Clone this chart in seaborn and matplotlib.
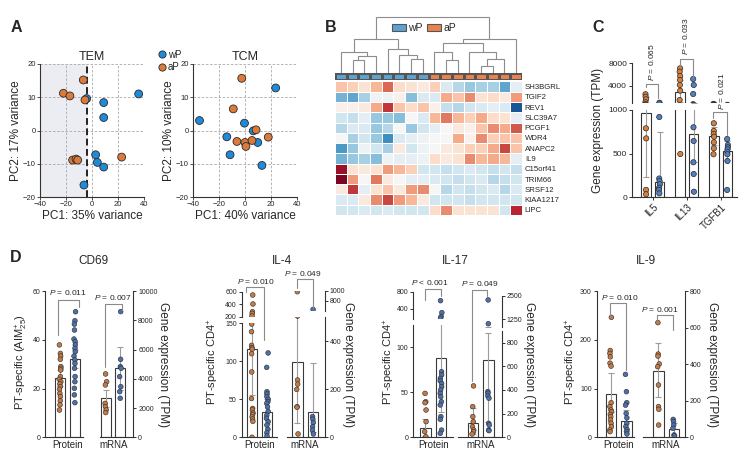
import numpy as np
import pandas as pd
import matplotlib
matplotlib.use("Agg")
import matplotlib.pyplot as plt
import seaborn as sns
from matplotlib.colors import ListedColormap
from matplotlib.lines import Line2D
from matplotlib.patches import Patch

# ---------------- DATA ----------------
# Panel A (PCA)
tem_wP_pc1 = [-4.1, 35.9, 9, 9, 2.8, 4.1, 9, -6.2]
tem_wP_pc2 = [9.6, 11, 8.4, 3.9, -7.3, -9.6, -11, -16.4]
tem_aP_pc1 = [-22, -17, -6.7, -5.4, -14.9, -12.3, -11, 22.8]
tem_aP_pc2 = [11.2, 10.4, 15.2, 9.2, -8.9, -8.6, -8.9, -8]
tcm_wP_pc1 = [-35, -0.4, -14, -11.5, 23.6, 6.4, 9.8, 13]
tcm_wP_pc2 = [3, 2.2, -1.9, -7.3, 12.8, -0.1, -3.6, -10.5]
tcm_aP_pc1 = [-2.5, -9, -6.2, 0, 0.7, 5.4, 8.5, 17.9]
tcm_aP_pc2 = [15.7, 6.5, -3.3, -3.6, -4.8, -3, 0.2, -2]
tem_cutoff = -3.5

# Panel B (heatmap)
hm_genes = ["SH3BGRL", "TGIF2", "REV1", "SLC39A7", "PCGF1", "WDR4", "ANAPC2",
            "IL9", "C15orf41", "TRIM66", "SRSF12", "KIAA1217", "LIPC"]
hm_groups = ["wP"] * 8 + ["aP"] * 8
hm_values = [
    [0.6, 0.5, 0.3, 0.7, 1.2, 0.4, 0.3, 0.2, 0.5, -0.3, -0.6, -0.8, -0.7, -0.7, -1.1, -0.2],
    [-1.0, -1.1, -0.7, -0.1, -0.1, 0.1, -0.9, -0.3, -0.3, 0.8, 0.6, 1.0, 0.3, 0.4, 0.2, 0.9],
    [0.1, 0.1, 0.2, 0.8, 1.5, 0.6, 0.4, 0.6, 0.1, -0.5, -0.6, -0.4, -0.3, -0.2, -0.3, -1.8],
    [-0.4, -0.5, -0.2, -0.8, -0.8, -0.9, 0.0, -0.3, 0.7, 1.1, 0.7, 0.5, 0.8, 0.4, 0.3, -0.2],
    [-0.6, -0.3, -0.3, -0.8, -0.6, 0.0, -0.8, -0.4, -0.2, 0.0, 0.2, 0.1, 0.6, 1.0, 0.8, 1.3],
    [0.0, -0.7, -0.4, -0.8, -1.3, -0.3, -0.2, -0.1, 0.0, 0.0, 0.8, 0.1, 1.0, 0.5, 0.6, 0.6],
    [-1.2, -0.8, -0.1, -0.4, -0.7, 0.2, -0.4, -0.1, 0.0, 0.2, 0.3, 0.5, 0.5, 0.8, 1.4, 0.6],
    [-1.0, -0.8, -0.7, -0.9, -0.1, -0.2, -0.2, -0.1, 0.4, 0.2, 0.3, 1.0, 0.7, 0.8, 0.7, -0.2],
    [1.8, 0.3, 0.2, 0.3, 0.9, 0.7, 0.5, -0.4, -0.4, -0.5, -0.4, -0.3, -0.4, -0.5, -0.4, -0.5],
    [2.0, 0.9, 0.0, 1.1, 0.2, 0.0, -0.2, -0.2, -0.3, -0.4, -0.5, -0.4, -0.3, -0.6, -0.5, -0.4],
    [0.2, 1.5, -0.2, 0.3, 0.6, 0.2, 0.9, 1.0, 0.0, -0.6, -0.4, -0.5, -0.4, -0.3, -0.6, -0.3],
    [-0.3, -0.3, 0.2, 1.0, 1.4, 0.9, 0.7, 0.2, -0.4, -0.4, -0.4, -0.5, -0.4, -0.4, -0.4, -0.4],
    [-0.4, -0.4, -0.3, -0.4, -0.3, -0.4, -0.4, -0.4, 0.4, 1.0, 0.3, 0.3, 0.3, 0.3, -0.4, 1.6],
]
# dendrogram merges (child a, child b, height) — scipy-linkage style node ids
dend_merges = [(1, 2, 2.4), (16, 3, 3.0), (0, 17, 3.8), (6, 7, 2.5), (5, 19, 3.2),
               (4, 20, 4.3), (18, 21, 6.0), (9, 10, 2.4), (8, 23, 3.8), (12, 13, 1.3),
               (25, 14, 2.5), (11, 26, 3.8), (24, 27, 5.3), (28, 15, 6.0), (22, 29, 10.0)]

# Panel C
c_genes = ["IL5", "IL13", "TGFB1"]
c_IL5_aP = [2540, 2110, 1650, 1120, 790, 675, 85, 35]
c_IL5_wP = [1050, 920, 215, 185, 150, 110, 85, 45]
c_IL13_aP = [7120, 6520, 5760, 5060, 4180, 3170, 1530, 496]
c_IL13_wP = [5230, 4180, 2590, 802, 645, 401, 267, 64]
c_TGFB1_aP = [848, 760, 725, 694, 630, 561, 493]
c_TGFB1_wP = [668, 599, 573, 550, 522, 493, 416, 84]
c_bar_aP = [962, 2890, 702]
c_bar_wP = [179, 722, 534]
c_err_aP = [(236, 2000), (1200, 5000), (600, 800)]
c_err_wP = [(179, 745), (400, 1050), (430, 640)]
c_pvals = ["0.065", "0.033", "0.021"]

# Panel D
cd69_prot_aP = [37.9, 34.4, 33.3, 32, 29, 28.3, 27.6, 24.9, 23.8, 22.8, 21.9, 20.8, 19.7, 18, 16.7, 15, 13.3, 11.2]
cd69_prot_wP = [51.5, 47.8, 46.4, 44, 40.3, 39.2, 37.9, 36.5, 35.1, 33.3, 31.7, 30.3, 28.3, 24.9, 22.8, 20.1, 17.4, 14.2]
cd69_mrna_aP = [4330, 3800, 3580, 2320, 2100, 1870, 1690]
cd69_mrna_wP = [8590, 5330, 4830, 4720, 4150, 3460, 3120, 2670]
cd69_prot_bars = [24.2, 32.1]
cd69_mrna_bars = [2665, 4715]
cd69_prot_errs = [(21, 27.5), (28.5, 35.6)]
cd69_mrna_errs = [(2100, 3230), (3230, 6200)]

il4_prot_aP = [547, 403, 280, 253, 211, 149, 139, 121, 118, 116, 110, 86, 51, 38, 36, 32, 30, 27, 24, 21, 0]
il4_prot_wP = [111, 92, 60, 57, 53.5, 50, 47, 44.7, 40, 34, 29, 25, 20.6, 16, 10.5, 6, 1.8]
il4_mrna_aP = [980, 504, 238, 221, 199, 127, 125, 14]
il4_mrna_wP = [625, 86, 75, 61, 44, 30, 14]
il4_prot_bars = [116, 33.8]
il4_mrna_bars = [311, 107]
il4_prot_errs = [(56, 180), (18, 50)]
il4_mrna_errs = [(58, 580), (20, 307)]

il17_prot_aP = [48.9, 39.6, 38.5, 30.4, 17.4, 6.3, 0.7]
il17_prot_wP = [592, 315, 223, 185, 73, 69.6, 65.6, 63, 60, 56.3, 52.6, 48.9, 45.2, 39.6, 36, 23, 20, 8, 4.4]
il17_mrna_aP = [434, 259, 175, 132, 90, 62, 48, 28]
il17_mrna_wP = [2277, 1027, 386, 372, 349, 330, 118, 104, 62, 56]
il17_prot_bars = [10, 87.8]
il17_mrna_bars = [124, 653]
il17_prot_errs = [(2, 20), (28.5, 147)]
il17_mrna_errs = [(30, 250), (130, 880)]

il9_prot_aP = [246, 178, 172, 165, 152, 146, 71, 63, 56, 52.6, 47, 42.4, 35.5, 28.7, 21.9, 15, 11.6]
il9_prot_wP = [129, 93.6, 71, 66, 49, 40, 28.7, 22, 16, 11.6, 6.8]
il9_mrna_aP = [627, 455, 444, 401, 386, 286, 168, 153, 67]
il9_mrna_wP = [98, 86, 67, 49, 13, 7]
il9_prot_bars = [88, 34]
il9_mrna_bars = [362, 44]
il9_prot_errs = [(52, 131), (12, 56)]
il9_mrna_errs = [(222, 514), (10, 80)]

# ---------------- STYLE ----------------
sns.set_theme(style="ticks")
plt.rcParams['font.family'] = ['Liberation Sans', 'DejaVu Sans']
plt.rcParams['mathtext.fontset'] = 'custom'
plt.rcParams['mathtext.rm'] = 'Liberation Sans'
plt.rcParams['mathtext.it'] = 'Liberation Sans:italic'
plt.rcParams['mathtext.bf'] = 'Liberation Sans:bold'

BLUE_A, ORANGE_A = "#1f8ad8", "#dc7a3a"
BLUE_C, ORANGE_C = "#4f80c0", "#d4803f"
BLUE_D, ORANGE_D = "#4b70aa", "#c27a46"
EDGE = "#2a2a2a"
SPINE = "#333333"
ERRC = "#9c9c9c"

W, H = 746, 472
fig = plt.figure(figsize=(W / 100, H / 100), dpi=100)


def px_ax(l, t, r, b):
    return fig.add_axes([l / W, 1 - b / H, (r - l) / W, (b - t) / H])


def fx(x):
    return x / W


def fy(y):
    return 1 - y / H


def bracket(x1, x2, y, y1, y2, color="#8a8a8a"):
    fig.add_artist(Line2D([fx(x1), fx(x1), fx(x2), fx(x2)], [fy(y1), fy(y), fy(y), fy(y2)],
                          color=color, lw=0.8, transform=fig.transFigure))


def style_spines(ax, visible):
    for k, s in ax.spines.items():
        s.set_visible(k in visible)
        s.set_color(SPINE)
        s.set_linewidth(0.8)


# panel letters
for letter, (x, y) in {"A": (16, 28), "B": (331, 28), "C": (598, 28), "D": (16, 258)}.items():
    fig.text(fx(x), fy(y), letter, fontsize=11.5, fontweight="bold", ha="center", va="center")

# ---------------- PANEL A ----------------
def pca_panel(box, title, wx, wy, ax_, ay_, xl, yl, shade=None):
    ax = px_ax(*box)
    df = pd.DataFrame({"PC1": list(wx) + list(ax_), "PC2": list(wy) + list(ay_),
                       "group": ["wP"] * len(wx) + ["aP"] * len(ax_)})
    if shade is not None:
        ax.axvspan(-40, shade, color="#ececf3", zorder=0)
        ax.axvline(shade, color="#222222", lw=1.4, ls=(0, (3.5, 1.8)), zorder=1)
    ax.grid(True, ls=(0, (3, 2)), color="#a8a8a8", lw=0.6)
    ax.set_axisbelow(True)
    sns.scatterplot(data=df, x="PC1", y="PC2", hue="group", hue_order=["wP", "aP"],
                    palette={"wP": BLUE_A, "aP": ORANGE_A}, s=32, edgecolor=EDGE,
                    linewidth=0.6, legend=False, ax=ax, zorder=3)
    ax.set_xlim(-40, 40)
    ax.set_ylim(-20, 20)
    ax.set_xticks([-40, -20, 0, 20, 40])
    ax.set_yticks([-20, -10, 0, 10, 20])
    ax.tick_params(labelsize=5.5, length=2, width=0.6, pad=1, color=SPINE)
    style_spines(ax, ["left", "bottom"])
    ax.set_xlabel(xl, fontsize=8.5, labelpad=1)
    ax.set_ylabel(yl, fontsize=8.5, labelpad=1)
    ax.set_title(title, fontsize=9, pad=3)
    return ax


pca_panel((40, 64, 144, 197), "TEM", tem_wP_pc1, tem_wP_pc2, tem_aP_pc1, tem_aP_pc2,
          "PC1: 35% variance", "PC2: 17% variance", shade=tem_cutoff)
pca_panel((193, 64, 297, 197), "TCM", tcm_wP_pc1, tcm_wP_pc2, tcm_aP_pc1, tcm_aP_pc2,
          "PC1: 40% variance", "PC2: 10% variance")
leg_handles = [Line2D([], [], marker="o", ls="", markersize=5.2, markerfacecolor=c,
                      markeredgecolor=EDGE, markeredgewidth=0.6) for c in (BLUE_A, ORANGE_A)]
fig.legend(leg_handles, ["wP", "aP"], loc="upper left", bbox_to_anchor=(fx(151), fy(45)),
           frameon=False, fontsize=7, handletextpad=0.0, labelspacing=0.25, borderpad=0,
           handlelength=1.2)

# ---------------- PANEL B ----------------
HM_L, HM_R = 335, 522
dax = px_ax(HM_L, 15, HM_R, 73.3)
pos = {i: (i + 0.5, 0.0) for i in range(len(hm_groups))}
nid = len(hm_groups)
for a, b, h in dend_merges:
    xa, ha = pos[a]
    xb, hb = pos[b]
    dax.plot([xa, xa, xb, xb], [ha, h, h, hb], color="#8c8c8c", lw=0.8, solid_joinstyle="miter")
    pos[nid] = ((xa + xb) / 2, h)
    nid += 1
dax.set_xlim(0, len(hm_groups))
dax.set_ylim(0, 10.3)
dax.axis("off")

cax = px_ax(HM_L, 73.3, HM_R, 80)
grp_code = np.array([[0 if g == "wP" else 1 for g in hm_groups]])
sns.heatmap(grp_code, cmap=ListedColormap(["#5fa2d2", "#e8834f"]), vmin=0, vmax=1, cbar=False,
            linewidths=1.0, linecolor="#555555", xticklabels=False, yticklabels=False, ax=cax)

hax = px_ax(HM_L, 81.5, HM_R, 215)
hm_df = pd.DataFrame(hm_values, index=hm_genes)
sns.heatmap(hm_df, cmap="RdBu_r", vmin=-2.1, vmax=2.1, cbar=False, linewidths=0.6,
            linecolor="white", xticklabels=False, yticklabels=hm_genes, ax=hax)
hax.yaxis.tick_right()
hax.tick_params(axis="y", labelrotation=0, labelsize=5.6, length=0, pad=2)
hax.tick_params(axis="x", length=0)
fig.legend([Patch(facecolor="#5fa2d2", edgecolor="#555555", lw=0.8),
            Patch(facecolor="#e8834f", edgecolor="#555555", lw=0.8)], ["wP", "aP"],
           loc="center", bbox_to_anchor=(fx(424), fy(28)), ncol=2, frameon=False, fontsize=7.5,
           handlelength=1.3, handleheight=0.6, columnspacing=0.5, handletextpad=0.2, borderpad=0)

# ---------------- PANEL C ----------------
c_points = pd.DataFrame({
    "gene": (["IL5"] * len(c_IL5_aP) + ["IL5"] * len(c_IL5_wP) + ["IL13"] * len(c_IL13_aP)
             + ["IL13"] * len(c_IL13_wP) + ["TGFB1"] * len(c_TGFB1_aP) + ["TGFB1"] * len(c_TGFB1_wP)),
    "group": (["aP"] * len(c_IL5_aP) + ["wP"] * len(c_IL5_wP) + ["aP"] * len(c_IL13_aP)
              + ["wP"] * len(c_IL13_wP) + ["aP"] * len(c_TGFB1_aP) + ["wP"] * len(c_TGFB1_wP)),
    "value": c_IL5_aP + c_IL5_wP + c_IL13_aP + c_IL13_wP + c_TGFB1_aP + c_TGFB1_wP,
})
c_bars = pd.DataFrame({"gene": c_genes * 2, "group": ["aP"] * 3 + ["wP"] * 3,
                       "value": c_bar_aP + c_bar_wP})
c_upper = px_ax(632, 63.3, 737, 103)
c_lower = px_ax(632, 110, 737, 197.3)
for ax, ylim, yticks in ((c_upper, (1000, 8000), [4000, 8000]), (c_lower, (0, 1000), [0, 500, 1000])):
    sns.barplot(data=c_bars, x="gene", y="value", hue="group", order=c_genes, hue_order=["aP", "wP"],
                palette={"aP": "white", "wP": "white"}, edgecolor="#333333", linewidth=0.8,
                width=0.8, gap=0.3, errorbar=None, legend=False, ax=ax)
    for i in range(3):
        for off, bars_, errs_ in ((-0.2, c_bar_aP, c_err_aP), (0.2, c_bar_wP, c_err_wP)):
            b = bars_[i]
            lo, hi = errs_[i]
            ax.errorbar([i + off], [b], yerr=[[b - lo], [hi - b]], color=ERRC, lw=0.8,
                        capsize=2, capthick=0.8, fmt="none")
    sns.stripplot(data=c_points, x="gene", y="value", hue="group", order=c_genes,
                  hue_order=["aP", "wP"], palette={"aP": ORANGE_C, "wP": BLUE_C}, dodge=True,
                  jitter=0.03, size=3.8, edgecolor=EDGE, linewidth=0.5, legend=False, ax=ax, zorder=3)
    ax.set_xlim(-0.61, 2.48)
    ax.set_ylim(*ylim)
    ax.set_yticks(yticks)
    ax.set_yticklabels([str(t) for t in yticks])
    ax.set_xlabel("")
    ax.set_ylabel("")
    ax.tick_params(axis="y", labelsize=6, length=2.5, width=0.7, pad=1, color=SPINE)
c_upper.set_xticks([])
style_spines(c_upper, ["left"])
style_spines(c_lower, ["left", "bottom"])
c_lower.set_xticks(range(3))
c_lower.set_xticklabels(c_genes, rotation=45, ha="right", rotation_mode="anchor", fontsize=7)
c_lower.tick_params(axis="x", length=2.5, width=0.7, pad=1, color=SPINE)
fig.text(fx(598), fy(130), "Gene expression (TPM)", rotation=90, fontsize=8.5, ha="center", va="center")
# p-values C
bracket(645.7, 658.3, 84.3, 87, 98)
bracket(680, 693.3, 59.3, 65, 76.7)
bracket(713.3, 726.7, 112.3, 118.3, 135)
for (x, y), p in zip([(651.5, 62), (685, 36), (721, 91)], c_pvals):
    fig.text(fx(x), fy(y), f"$P$ = {p}", rotation=90, fontsize=6, ha="center", va="center")

# ---------------- PANEL D ----------------
D_PAL = {"aP": ORANGE_D, "wP": BLUE_D}


def d_axis(box, xlim, ylim, yticks, side, vals_aP, vals_wP, bars, errs, lower, xlabel):
    ax = px_ax(*box)
    pts = pd.DataFrame({"group": ["aP"] * len(vals_aP) + ["wP"] * len(vals_wP),
                        "value": list(vals_aP) + list(vals_wP)})
    bdf = pd.DataFrame({"group": ["aP", "wP"], "value": bars})
    sns.barplot(data=bdf, x="group", y="value", order=["aP", "wP"], color="white",
                edgecolor="#3a3a3a", linewidth=0.8, width=0.68, errorbar=None, ax=ax)
    for i, (lo, hi) in enumerate(errs):
        ax.errorbar([i], [bars[i]], yerr=[[bars[i] - lo], [hi - bars[i]]], color=ERRC, lw=0.8,
                    capsize=2, capthick=0.8, fmt="none")
    sns.stripplot(data=pts, x="group", y="value", order=["aP", "wP"], hue="group",
                  hue_order=["aP", "wP"], palette=D_PAL, size=3.4, jitter=0.06, edgecolor=EDGE,
                  linewidth=0.4, legend=False, ax=ax, zorder=3)
    ax.set_xlim(*xlim)
    ax.set_ylim(*ylim)
    ax.set_yticks(yticks)
    ax.set_yticklabels([str(t) for t in yticks])
    ax.set_xlabel("")
    ax.set_ylabel("")
    vis = [side] + (["bottom"] if lower else [])
    style_spines(ax, vis)
    if side == "right":
        ax.yaxis.tick_right()
    else:
        ax.yaxis.tick_left()
    ax.tick_params(axis="y", labelsize=5, length=2.5, width=0.7, pad=1, color=SPINE)
    if lower:
        ax.set_xticks([0.5])
        ax.set_xticklabels([xlabel], fontsize=7)
        ax.tick_params(axis="x", length=0, pad=2)
    else:
        ax.set_xticks([])
    return ax


def d_panel(title, title_x, prot_axes, mrna_axes, prot_aP, prot_wP, prot_bars, prot_errs,
            mrna_aP, mrna_wP, mrna_bars, mrna_errs, ylab, ylab_x, rlab_x):
    for k, (box, xlim, ylim, yt) in enumerate(prot_axes):
        d_axis(box, xlim, ylim, yt, "left", prot_aP, prot_wP, prot_bars, prot_errs, k == 0, "Protein")
    for k, (box, xlim, ylim, yt) in enumerate(mrna_axes):
        d_axis(box, xlim, ylim, yt, "right", mrna_aP, mrna_wP, mrna_bars, mrna_errs, k == 0, "mRNA")
    fig.text(fx(title_x), fy(261), title, fontsize=8.5, ha="center", va="center")
    fig.text(fx(ylab_x), fy(362), ylab, rotation=90, fontsize=8, ha="center", va="center")
    fig.text(fx(rlab_x), fy(365), "Gene expression (TPM)", rotation=270, fontsize=8.5,
             ha="center", va="center")


d_panel("CD69", 93,
        [((45, 291, 83, 437.3), (-1.02, 1.56), (0, 60), [0, 20, 40, 60])],
        [((100, 291, 133.3, 437.3), (-0.41, 1.89), (0, 10000), [0, 2000, 4000, 6000, 8000, 10000])],
        cd69_prot_aP, cd69_prot_wP, cd69_prot_bars, cd69_prot_errs,
        cd69_mrna_aP, cd69_mrna_wP, cd69_mrna_bars, cd69_mrna_errs,
        "PT-specific (AIM$_{25}^{+}$)", 22, 163)
d_panel("IL-4", 282,
        [((241.7, 323.3, 276.7, 437.3), (-0.71, 1.63), (0, 150), [0, 50, 100, 150]),
         ((241.7, 291.7, 276.7, 316.7), (-0.71, 1.63), (200, 600), [200, 400, 600])],
        [((286.7, 317, 325, 437.3), (-0.71, 1.81), (0, 500), [0, 200, 400]),
         ((286.7, 290.7, 325, 310.7), (-0.71, 1.81), (600, 1000), [800, 1000])],
        il4_prot_aP, il4_prot_wP, il4_prot_bars, il4_prot_errs,
        il4_mrna_aP, il4_mrna_wP, il4_mrna_bars, il4_mrna_errs,
        "PT-specific CD4$^{+}$", 213, 348)
d_panel("IL-17", 455,
        [((413.3, 325, 453, 437.3), (-0.76, 1.76), (0, 125), [0, 50, 100]),
         ((413.3, 291.7, 453, 319.3), (-0.76, 1.76), (160, 800), [400, 800])],
        [((458, 330.7, 501.7, 437.3), (-0.98, 1.87), (0, 900), [0, 200, 400, 600, 800]),
         ((458, 295.7, 501.7, 326.7), (-0.98, 1.87), (870, 2500), [1250, 2500])],
        il17_prot_aP, il17_prot_wP, il17_prot_bars, il17_prot_errs,
        il17_mrna_aP, il17_mrna_wP, il17_mrna_bars, il17_mrna_errs,
        "PT-specific CD4$^{+}$", 389, 529)
d_panel("IL-9", 646,
        [((596.7, 291, 634, 437.3), (-0.91, 1.5), (0, 300), [0, 100, 200, 300])],
        [((643, 291, 685, 437.3), (-0.99, 1.72), (0, 800), [0, 200, 400, 600, 800])],
        il9_prot_aP, il9_prot_wP, il9_prot_bars, il9_prot_errs,
        il9_mrna_aP, il9_mrna_wP, il9_mrna_bars, il9_mrna_errs,
        "PT-specific CD4$^{+}$", 571, 712)

# D p-value brackets and labels
d_brackets = [((58.3, 79, 300, 335, 307), (68, 292.5), "= 0.011"),
              ((105, 121.7, 304, 366.7, 310), (113, 297.5), "= 0.007"),
              ((246, 264, 287.3, 291.7, 340), (256, 281.5), "= 0.010"),
              ((296.7, 312.7, 279.3, 288, 308), (303.3, 273.5), "= 0.049"),
              ((425, 440.7, 289.3, 300, 296), (430, 282.5), "< 0.001"),
              ((472.3, 487.3, 290, 381, 296), (480, 283.5), "= 0.049"),
              ((610, 626, 303.3, 318, 370), (620, 297), "= 0.010"),
              ((656.7, 673.3, 315, 320, 330), (660, 309), "= 0.001")]
for (x1, x2, y, y1, y2), (tx, ty), ptxt in d_brackets:
    bracket(x1, x2, y, y1, y2)
    fig.text(fx(tx), fy(ty), f"$P$ {ptxt}", fontsize=6, ha="center", va="center")

fig.savefig("out.png", dpi=100)
